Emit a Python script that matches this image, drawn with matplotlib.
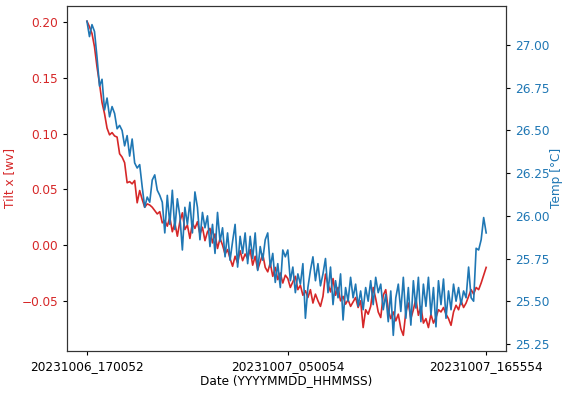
import numpy as np
import matplotlib.pyplot as plt

tick_labels = ["20231006_170052", "20231007_050054", "20231007_165554"]

tilt_x = [
    0.201, 0.196, 0.190, 0.178, 0.160, 0.145, 0.128, 0.118,
    0.105, 0.099, 0.101, 0.098, 0.097, 0.082, 0.079, 0.074,
    0.056, 0.057, 0.055, 0.058, 0.038, 0.049, 0.041, 0.034,
    0.037, 0.036, 0.034, 0.031, 0.028, 0.030, 0.020, 0.022,
    0.017, 0.025, 0.012, 0.020, 0.008, 0.021, 0.029, 0.014,
    0.018, 0.006, 0.020, 0.015, 0.021, 0.010, 0.016, 0.004,
    0.012, 0.015, 0.002, 0.010, -0.003, 0.006, 0.000, -0.008,
    -0.004, -0.012, -0.019, -0.010, -0.016, -0.005, -0.014, -0.008,
    -0.012, -0.004, -0.018, -0.010, -0.022, -0.015, -0.008, -0.020,
    -0.024, -0.016, -0.028, -0.020, -0.031, -0.025, -0.034, -0.027,
    -0.030, -0.038, -0.033, -0.028, -0.040, -0.036, -0.045, -0.041,
    -0.047, -0.040, -0.052, -0.044, -0.050, -0.055, -0.046, -0.026,
    -0.035, -0.042, -0.030, -0.045, -0.038, -0.050, -0.046, -0.053,
    -0.049, -0.055, -0.051, -0.047, -0.056, -0.050, -0.074, -0.058,
    -0.062, -0.055, -0.038, -0.048, -0.060, -0.065, -0.045, -0.040,
    -0.058, -0.066, -0.060, -0.068, -0.062, -0.075, -0.081, -0.060,
    -0.052, -0.066, -0.058, -0.048, -0.063, -0.055, -0.070, -0.066,
    -0.074, -0.062, -0.070, -0.065, -0.058, -0.060, -0.056, -0.062,
    -0.066, -0.072, -0.060, -0.054, -0.058, -0.050, -0.056, -0.052,
    -0.046, -0.040, -0.044, -0.038, -0.040, -0.034, -0.027, -0.020,
]

temp = [
    27.14, 27.05, 27.12, 27.08, 26.93, 26.76, 26.80, 26.62,
    26.69, 26.58, 26.64, 26.60, 26.51, 26.53, 26.50, 26.41,
    26.47, 26.35, 26.45, 26.31, 26.28, 26.30, 26.17, 26.05,
    26.11, 26.08, 26.21, 26.24, 26.15, 26.12, 26.08, 25.90,
    26.12, 25.95, 26.15, 25.92, 26.10, 26.00, 25.80, 26.05,
    25.95, 26.08, 25.90, 26.14, 26.05, 25.86, 26.02, 25.93,
    26.00, 25.82, 25.95, 25.78, 26.02, 25.85, 25.93, 25.76,
    25.90, 25.74, 25.85, 25.95, 25.70, 25.88, 25.78, 25.90,
    25.72, 25.88, 25.75, 25.90, 25.68, 25.82, 25.74, 25.86,
    25.90, 25.70, 25.78, 25.61, 25.72, 25.58, 25.80, 25.76,
    25.80, 25.62, 25.70, 25.55, 25.66, 25.60, 25.72, 25.40,
    25.58, 25.68, 25.76, 25.62, 25.72, 25.59, 25.66, 25.75,
    25.55, 25.70, 25.48, 25.62, 25.52, 25.66, 25.39, 25.58,
    25.50, 25.64, 25.52, 25.60, 25.47, 25.56, 25.45, 25.58,
    25.50, 25.62, 25.48, 25.64, 25.55, 25.60, 25.45, 25.54,
    25.38, 25.56, 25.30, 25.52, 25.60, 25.44, 25.64, 25.40,
    25.58, 25.36, 25.62, 25.46, 25.64, 25.38, 25.60, 25.47,
    25.64, 25.42, 25.58, 25.35, 25.62, 25.48, 25.63, 25.40,
    25.56, 25.45, 25.60, 25.50, 25.58, 25.48, 25.56, 25.52,
    25.70, 25.52, 25.50, 25.81, 25.80, 25.86, 25.99, 25.90,
]

# the original looks like a default figure shrunk a bit, so scale text and ticks
plt.rcParams['font.size'] = 8.7
plt.rcParams['xtick.major.size'] = 3
plt.rcParams['ytick.major.size'] = 3
plt.rcParams['axes.linewidth'] = 0.8
plt.rcParams['axes.edgecolor'] = '#333333'

n = len(tilt_x)
x = np.arange(n)

fig, ax1 = plt.subplots(figsize=(5.63, 3.94), dpi=100)
fig.subplots_adjust(left=0.119, right=0.899, bottom=0.109, top=0.986)

ax1.plot(x, tilt_x, color='tab:red', linewidth=1.2)
ax1.set_ylabel('Tilt x [wv]', color='tab:red')
ax1.tick_params(axis='y', labelcolor='tab:red')
ax1.set_xlabel('Date (YYYYMMDD_HHMMSS)', labelpad=1)

# temperature on the right axis
ax2 = ax1.twinx()
ax2.plot(x, temp, color='tab:blue', linewidth=1.2)
ax2.set_ylabel('Temp [°C]', color='tab:blue', labelpad=0)
ax2.tick_params(axis='y', labelcolor='tab:blue')

ax1.set_xticks([0, n // 2, n - 1])
ax1.set_xticklabels(tick_labels)

fig.savefig('out.png', dpi=100)
